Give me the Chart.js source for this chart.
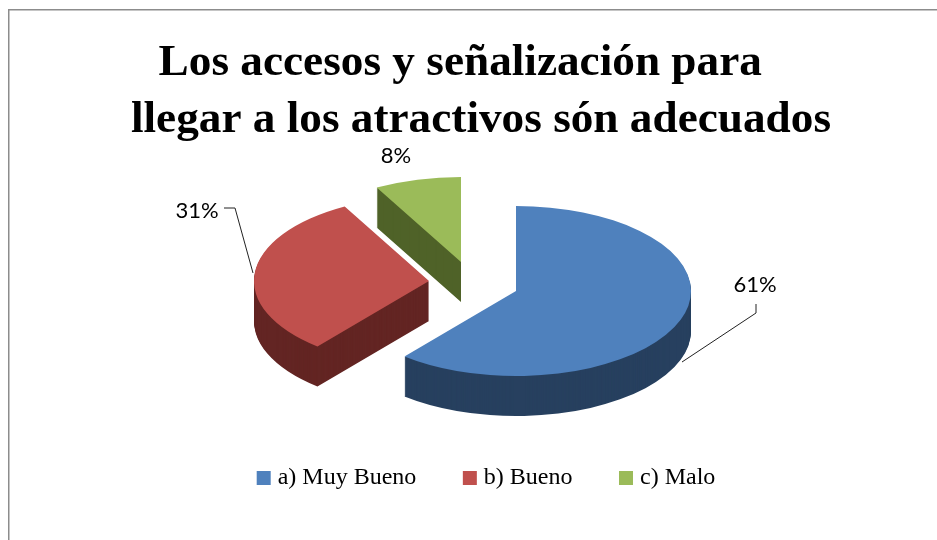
<!DOCTYPE html>
<html lang="es">
<head>
<meta charset="utf-8">
<style>html,body{margin:0;padding:0;background:#fff;overflow:hidden}canvas{display:block}</style>
<script src="https://cdn.jsdelivr.net/npm/chart.js@4"></script>
</head>
<body>
<canvas id="c" width="937" height="540" style="width:937px;height:540px"></canvas>
<script>
const categories = ['a) Muy Bueno', 'b) Bueno', 'c) Malo'];
const values = [61, 31, 8];
const titleLines = ['Los accesos y señalización para     ', 'llegar a los atractivos són adecuados \u200A'];
const topColors = ['#4F81BD', '#C0504D', '#9BBB59'];
const sideColors = ['#27405F', '#632523', '#4F6228'];

const centers = [[516, 291], [429, 281], [461, 262]];
const radiusX = 175, radiusY = 85, depth = 40;
const labelPos = [[755, 285], [197, 211], [396, 156]];
const leaders = [
  [[756, 304], [756, 313], [682, 362]],
  [[224, 208], [235, 208], [253, 273]],
  []
];

const pie3d = {
  id: 'pie3d',
  beforeDraw(chart) {
    const ctx = chart.ctx;
    ctx.save();
    ctx.fillStyle = '#fff';
    ctx.fillRect(0, 0, chart.width, chart.height);
    ctx.fillStyle = '#8c8c8c';
    ctx.fillRect(8, 9, chart.width - 8, 1.5);
    ctx.fillRect(8, 9, 1.5, chart.height - 9);
    ctx.restore();
  },
  beforeDatasetsDraw(chart) {
    const ctx = chart.ctx;
    const arcs = chart.getDatasetMeta(0).data;
    [2, 1, 0].forEach(i => {
      const arc = arcs[i];
      const base = arc.options;
      const side = Object.create(base, {
        backgroundColor: { value: sideColors[i] },
        borderWidth: { value: 0 }
      });
      const [cx, cy] = centers[i];
      const paint = dy => {
        ctx.save();
        ctx.translate(cx, cy + dy);
        ctx.scale(radiusX / arc.outerRadius, radiusY / arc.outerRadius);
        ctx.translate(-arc.x, -arc.y);
        arc.draw(ctx);
        ctx.restore();
      };
      arc.options = side;
      for (let d = depth; d >= 1; d--) paint(d);
      arc.options = base;
      paint(0);
    });
    ctx.save();
    ctx.lineWidth = 1;
    ctx.strokeStyle = '#222';
    leaders.forEach(pts => {
      if (!pts.length) return;
      ctx.beginPath();
      pts.forEach(([x, y], k) => k ? ctx.lineTo(x, y) : ctx.moveTo(x, y));
      ctx.stroke();
    });
    ctx.fillStyle = '#000';
    ctx.font = '22px Lato';
    ctx.textAlign = 'center';
    ctx.textBaseline = 'middle';
    values.forEach((v, i) => ctx.fillText(v + '%', labelPos[i][0], labelPos[i][1]));
    ctx.restore();
    return false;
  }
};

new Chart(document.getElementById('c'), {
  type: 'pie',
  data: {
    labels: categories,
    datasets: [{ data: values, backgroundColor: topColors, borderWidth: 0 }]
  },
  plugins: [pie3d],
  options: {
    responsive: false,
    animation: false,
    events: [],
    layout: { padding: { left: 40, top: 0, right: 0, bottom: 40 } },
    plugins: {
      tooltip: { enabled: false },
      title: {
        display: true,
        text: titleLines,
        color: '#000',
        font: { family: 'Liberation Serif', size: 45.25, weight: 'bold', lineHeight: 1.26 },
        padding: { top: 35, bottom: 10 }
      },
      legend: {
        display: true,
        position: 'bottom',
        labels: {
          color: '#000',
          font: { family: 'Liberation Serif', size: 24 },
          boxWidth: 4,
          boxHeight: 4,
          padding: 51.5,
          generateLabels: () => categories.map((text, index) => ({
            text, index,
            fillStyle: topColors[index],
            strokeStyle: topColors[index],
            lineWidth: 10,
            lineJoin: 'miter',
            fontColor: '#000'
          }))
        }
      }
    }
  }
});
</script>
</body>
</html>
